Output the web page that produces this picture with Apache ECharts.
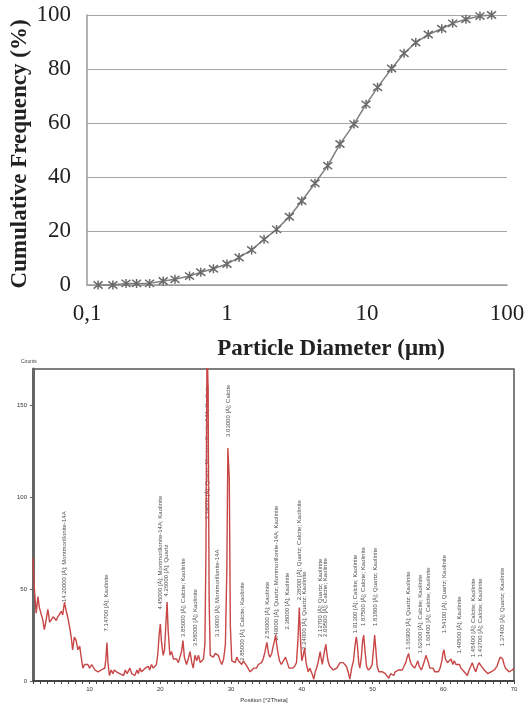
<!DOCTYPE html>
<html>
<head>
<meta charset="utf-8">
<script src="https://cdn.jsdelivr.net/npm/echarts@6/dist/echarts.min.js"></script>
<style>
  html, body { margin: 0; padding: 0; background: #fff; }
  #chart { width: 529px; height: 704px; }
</style>
</head>
<body>
<div id="chart"></div>
<script>
// particle size distribution (top)
var diameter = [0.12, 0.153, 0.19, 0.226, 0.28, 0.35, 0.425, 0.54, 0.65, 0.80, 1.0, 1.22, 1.5, 1.84,
    2.26, 2.79, 3.42, 4.25, 5.24, 6.41, 8.07, 9.84, 11.9, 15.0, 18.4, 22.3, 27.4, 34.2, 40.9, 50.9, 64.1, 77.6];
var cumFreq = [0, 0, 0.6, 0.6, 0.6, 1.5, 2.1, 3.3, 4.7, 6.0, 7.8, 10.2, 13.0, 16.9,
    20.6, 25.3, 31.1, 37.7, 44.2, 52.2, 59.6, 66.9, 73.2, 80.2, 85.8, 89.8, 92.8, 94.9, 96.9, 98.4, 99.6, 100];
var cumTicks = [0, 20, 40, 60, 80, 100];

// XRD scan (bottom): [2theta, counts]
var xrdScan = [
    [2.0, 67], [2.2, 50], [2.45, 37], [2.7, 46], [2.9, 40], [3.15, 41], [3.4, 33], [3.6, 28], [3.85, 33],
    [4.1, 39], [4.35, 32], [4.6, 32], [4.85, 35], [5.05, 34], [5.3, 33], [5.5, 35], [5.75, 36], [6.0, 38],
    [6.2, 36], [6.45, 43], [6.7, 38], [6.9, 35], [7.15, 30], [7.4, 24], [7.6, 17], [7.85, 24], [8.1, 22],
    [8.35, 17], [8.6, 19], [8.85, 12], [9.05, 7], [9.3, 9], [9.55, 8], [9.76, 9], [10.0, 7], [10.3, 9],
    [10.5, 8], [10.75, 6], [10.95, 7], [11.2, 5], [11.4, 4], [11.65, 6], [11.9, 6], [12.15, 7], [12.3, 12],
    [12.45, 21], [12.6, 10], [12.8, 3], [13.05, 6], [13.3, 4], [13.5, 6], [13.8, 5], [14.05, 6], [14.25, 4],
    [14.5, 5], [14.8, 3], [15.05, 6], [15.3, 4], [15.5, 5], [15.7, 7], [15.95, 4], [16.2, 5], [16.4, 3],
    [16.7, 6], [16.9, 4], [17.1, 7], [17.35, 5], [17.6, 4], [17.85, 7], [18.1, 6], [18.3, 8], [18.5, 6],
    [18.75, 9], [19.0, 7], [19.2, 8], [19.45, 9], [19.65, 15], [19.85, 26], [20.0, 31], [20.15, 22],
    [20.4, 14], [20.6, 17], [20.8, 32], [20.96, 43], [21.1, 28], [21.35, 14], [21.6, 16], [21.85, 12],
    [22.05, 13], [22.3, 12], [22.55, 10], [22.8, 11], [23.0, 16], [23.2, 22], [23.4, 13], [23.7, 9],
    [23.95, 12], [24.2, 16], [24.45, 10], [24.65, 7], [24.9, 14], [25.15, 11], [25.4, 14], [25.65, 10],
    [25.9, 9], [26.1, 12], [26.3, 20], [26.45, 70], [26.6, 185], [26.75, 160], [26.9, 45], [27.05, 14],
    [27.26, 14], [27.5, 13], [27.75, 15], [27.97, 16], [28.2, 14], [28.45, 11], [28.7, 9], [28.95, 12],
    [29.2, 20], [29.4, 60], [29.55, 127], [29.75, 110], [29.9, 30], [30.1, 11], [30.35, 12], [30.6, 10],
    [30.8, 13], [31.05, 11], [31.3, 10], [31.5, 9], [31.75, 11], [32.0, 11], [32.25, 8], [32.45, 7],
    [32.7, 5], [32.95, 6], [33.2, 7], [33.4, 6], [33.6, 7], [33.85, 9], [34.05, 8], [34.3, 10], [34.55, 12],
    [34.8, 16], [35.06, 21], [35.3, 15], [35.5, 13], [35.75, 15], [35.96, 19], [36.15, 22], [36.3, 25],
    [36.45, 20], [36.6, 16], [36.85, 11], [37.1, 9], [37.4, 11], [37.7, 13], [37.95, 10], [38.2, 7],
    [38.45, 8], [38.7, 7], [39.0, 8], [39.25, 10], [39.45, 22], [39.65, 40], [39.85, 20], [40.0, 11],
    [40.2, 14], [40.4, 18], [40.6, 10], [40.9, 5], [41.15, 7], [41.45, 4], [41.7, 1], [41.9, 5], [42.1, 7],
    [42.35, 11], [42.6, 16], [42.75, 12], [42.9, 9], [43.15, 15], [43.4, 20], [43.55, 15], [43.7, 11],
    [43.95, 8], [44.2, 7], [44.45, 6], [44.7, 5], [44.95, 7], [45.2, 8], [45.4, 10], [45.6, 9], [45.85, 10],
    [46.05, 9], [46.3, 8], [46.55, 5], [46.8, 1], [47.05, 7], [47.3, 11], [47.55, 20], [47.7, 24],
    [47.85, 20], [48.05, 10], [48.2, 7], [48.4, 12], [48.6, 22], [48.75, 25], [48.9, 18], [49.15, 8],
    [49.4, 6], [49.7, 7], [49.95, 9], [50.15, 18], [50.3, 25], [50.45, 18], [50.65, 8], [50.9, 5],
    [51.15, 6], [51.4, 5], [51.6, 4], [51.8, 4], [52.05, 3], [52.3, 1.5], [52.55, 4], [52.8, 5], [53.0, 3],
    [53.2, 5], [53.45, 4], [53.7, 6], [53.95, 5], [54.2, 6], [54.45, 8], [54.7, 10], [54.9, 13], [55.1, 15],
    [55.3, 11], [55.5, 9], [55.7, 8], [55.95, 7], [56.2, 9], [56.4, 11], [56.6, 8], [56.9, 6], [57.1, 8],
    [57.35, 11], [57.55, 14], [57.7, 15], [57.9, 10], [58.1, 7], [58.3, 6], [58.55, 7], [58.8, 5],
    [59.05, 6], [59.3, 5], [59.55, 7], [59.8, 11], [59.95, 15], [60.1, 17], [60.3, 12], [60.45, 13],
    [60.6, 10], [60.85, 11], [61.1, 12], [61.35, 9], [61.55, 11], [61.8, 9], [62.05, 8], [62.3, 9],
    [62.5, 7], [62.7, 6], [62.95, 5], [63.15, 4], [63.4, 3], [63.65, 6], [63.9, 8], [64.1, 10], [64.35, 7],
    [64.6, 5], [64.85, 8], [65.05, 10], [65.2, 11], [65.4, 8], [65.6, 9], [65.8, 6], [66.05, 5], [66.3, 4],
    [66.5, 3], [66.75, 5], [67.0, 4], [67.2, 6], [67.4, 6], [67.6, 8], [67.85, 11], [68.05, 13], [68.2, 14],
    [68.4, 12], [68.6, 9], [68.8, 7], [69.05, 8], [69.3, 5], [69.5, 4], [69.75, 6], [70.0, 7]
];

// peak annotations: position, where the text starts (counts), text
var peakPos = [6.45, 12.4, 20.0, 20.8, 23.2, 24.9, 26.65, 28.0, 29.6, 31.6, 35.2, 36.4, 37.9,
    39.6, 40.4, 42.6, 43.3, 47.6, 48.7, 50.4, 55.1, 56.8, 57.9, 60.1, 62.3, 64.2, 65.2, 68.3];
var peakBase = [43, 27, 39, 46, 24, 19, 88, 24, 133, 11, 23, 22, 28,
    44, 17, 24, 24, 26, 30, 30, 17, 15, 19, 26, 15, 13, 13, 19];
var peakText = [
    '14.20000 [Å]; Montmorillonite-14A',
    '7.14700 [Å]; Kaolinite',
    '4.45000 [Å]; Montmorillonite-14A; Kaolinite',
    '4.26000 [Å]; Quartz',
    '3.85000 [Å]; Calcite; Kaolinite',
    '3.58000 [Å]; Kaolinite',
    '3.34000 [Å]; Quartz; Montmorillonite-14A; Kaolinite',
    '3.19000 [Å]; Montmorillonite-14A',
    '3.03000 [Å]; Calcite',
    '2.85000 [Å]; Calcite; Kaolinite',
    '2.56000 [Å]; Kaolinite',
    '2.49000 [Å]; Quartz; Montmorillonite-14A; Kaolinite',
    '2.38000 [Å]; Kaolinite',
    '2.28000 [Å]; Quartz; Calcite; Kaolinite',
    '2.24000 [Å]; Quartz; Kaolinite',
    '2.12700 [Å]; Quartz; Kaolinite',
    '2.09500 [Å]; Calcite; Kaolinite',
    '1.91300 [Å]; Calcite; Kaolinite',
    '1.87500 [Å]; Calcite; Kaolinite',
    '1.81800 [Å]; Quartz; Kaolinite',
    '1.66900 [Å]; Quartz; Kaolinite',
    '1.62600 [Å]; Calcite; Kaolinite',
    '1.60400 [Å]; Calcite; Kaolinite',
    '1.54100 [Å]; Quartz; Kaolinite',
    '1.49500 [Å]; Kaolinite',
    '1.45400 [Å]; Calcite; Kaolinite',
    '1.43700 [Å]; Calcite; Kaolinite',
    '1.37400 [Å]; Quartz; Kaolinite'
];

var serif = '"Liberation Serif", "Times New Roman", serif';
var sans = '"Liberation Sans", Arial, sans-serif';

var chart = echarts.init(document.getElementById('chart'));

var cumData = [];
for (var i = 0; i < diameter.length; i++) {
    cumData.push([diameter[i], cumFreq[i]]);
}

var peakData = [];
for (var j = 0; j < peakPos.length; j++) {
    peakData.push({ value: [peakPos[j], peakBase[j]], name: peakText[j] });
}

var option = {
    animation: false,
    backgroundColor: '#fff',
    grid: [
        { left: 87, top: 15, width: 420, height: 270 },
        { left: 33, top: 369, width: 481, height: 312, show: true, borderColor: '#555', borderWidth: 1.5 }
    ],
    xAxis: [
        {
            gridIndex: 0, type: 'log', logBase: 10, min: 0.1, max: 100,
            axisLine: { lineStyle: { color: '#9a9a9a', width: 1.5 } },
            axisTick: { show: false },
            splitLine: { show: false },
            axisLabel: {
                fontFamily: serif, fontSize: 23, color: '#222', margin: 17,
                formatter: function (v) { return v < 1 ? '0,1' : String(Math.round(v)); }
            }
        },
        {
            gridIndex: 1, type: 'value', min: 2, max: 70, interval: 1,
            axisLine: { lineStyle: { color: '#444', width: 2 } },
            axisTick: { length: 3, lineStyle: { color: '#444' } },
            splitLine: { show: false },
            axisLabel: {
                fontFamily: sans, fontSize: 6, color: '#333', margin: 5,
                formatter: function (v) { return v % 10 === 0 ? String(v) : ''; }
            }
        }
    ],
    yAxis: [
        {
            gridIndex: 0, type: 'value', min: 0, max: 100, interval: 20,
            axisLine: { show: true, lineStyle: { color: '#9a9a9a', width: 1.5 } },
            axisTick: { show: false },
            splitLine: { lineStyle: { color: '#a6a6a6', width: 1 } },
            axisLabel: {
                fontFamily: serif, fontSize: 23, color: '#222', margin: 16,
                customValues: cumTicks
            }
        },
        {
            gridIndex: 1, type: 'value', min: 0, max: 170, interval: 50,
            axisLine: { show: true, lineStyle: { color: '#666', width: 3 } },
            axisTick: { show: true, length: 3, lineStyle: { color: '#666' } },
            splitLine: { show: false },
            axisLabel: { fontFamily: sans, fontSize: 6, color: '#333', margin: 6, showMaxLabel: false }
        }
    ],
    series: [
        {
            type: 'line', xAxisIndex: 0, yAxisIndex: 0,
            data: cumData,
            symbol: 'path://M0,1L10,9M10,1L0,9M5,0L5,10',
            symbolSize: 9,
            lineStyle: { color: '#7f7f7f', width: 1.5 },
            itemStyle: { color: '#777', borderColor: '#6a6a6a', borderWidth: 1.5 }
        },
        {
            type: 'line', xAxisIndex: 1, yAxisIndex: 1,
            data: xrdScan,
            symbol: 'none',
            lineStyle: { color: '#c84646', width: 1.4 }
        },
        {
            type: 'scatter', xAxisIndex: 1, yAxisIndex: 1,
            data: peakData,
            symbolSize: 1,
            itemStyle: { color: 'transparent' },
            label: {
                show: true, position: 'inside', rotate: 90, align: 'left', verticalAlign: 'middle',
                fontFamily: sans, fontSize: 6, color: '#1a1a1a',
                formatter: function (p) { return p.name; }
            }
        }
    ],
    graphic: [
        {
            type: 'text', x: 20, y: 154, rotation: Math.PI / 2,
            style: {
                text: 'Cumulative Frequency (%)', font: 'bold 23px ' + serif, fill: '#222',
                textAlign: 'center', textVerticalAlign: 'middle', align: 'center', verticalAlign: 'middle'
            }
        },
        {
            type: 'text', x: 331, y: 349,
            style: {
                text: 'Particle Diameter (μm)', font: 'bold 23px ' + serif, fill: '#222',
                textAlign: 'center', textVerticalAlign: 'middle', align: 'center', verticalAlign: 'middle'
            }
        },
        {
            type: 'text', x: 21, y: 362,
            style: { text: 'Counts', font: '5px ' + sans, fill: '#444', textVerticalAlign: 'middle', verticalAlign: 'middle' }
        },
        {
            type: 'text', x: 264, y: 700,
            style: {
                text: 'Position [°2Theta]', font: '6px ' + sans, fill: '#333',
                textAlign: 'center', textVerticalAlign: 'middle', align: 'center', verticalAlign: 'middle'
            }
        }
    ]
};

chart.setOption(option);
</script>
</body>
</html>
